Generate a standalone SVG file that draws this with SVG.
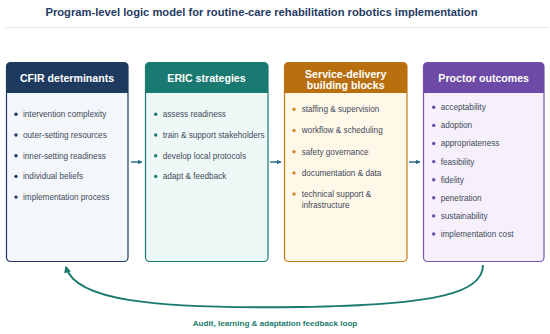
<svg xmlns="http://www.w3.org/2000/svg" width="550" height="334" viewBox="0 0 550 334">
<style>
.title{font-family:"Liberation Sans",Arial,sans-serif;font-weight:bold;font-size:11.2px;fill:#1f3a5f;text-anchor:middle}
.hd{font-family:"Liberation Sans",Arial,sans-serif;font-weight:bold;font-size:10.6px;fill:#ffffff;text-anchor:middle}
.it{font-family:"Liberation Sans",Arial,sans-serif;font-size:8.2px;fill:#424b59}
.lbl{font-family:"Liberation Sans",Arial,sans-serif;font-weight:bold;font-size:8.1px;fill:#1a7a6e;text-anchor:middle}
.con{fill:none;stroke:#2b6c8a;stroke-width:1.5}
.loop{fill:none;stroke:#1a7a6e;stroke-width:2}
</style>
<defs>
<marker id="ah" viewBox="0 0 10 10" refX="9" refY="5" markerWidth="3.2" markerHeight="3.2" orient="auto"><path d="M0,0 L10,5 L0,10 z" fill="#2b6c8a"/></marker>
<marker id="ah2" viewBox="0 0 10 10" refX="8" refY="5" markerWidth="3.5" markerHeight="3.5" orient="auto"><path d="M0,0 L10,5 L0,10 z" fill="#1a7a6e"/></marker>
</defs>
<rect width="550" height="334" fill="#ffffff"/>
<text class="title" x="261.5" y="16">Program-level logic model for routine-care rehabilitation robotics implementation</text>
<line x1="6" y1="27.5" x2="548" y2="27.5" stroke="#e3e7ec" stroke-width="1.2"/>

<g id="cfir">
<rect x="6.5" y="62.5" width="121.5" height="199" rx="4" fill="#f3f6fb" stroke="#1f3a5f" stroke-width="1.2"/>
<path d="M6.5,93 V66.5 a4,4 0 0 1 4,-4 H124 a4,4 0 0 1 4,4 V93 z" fill="#1f3a5f"/>
<text class="hd" x="67" y="81.5">CFIR determinants</text>
<g fill="#1f3a5f"><circle cx="16" cy="114.3" r="1.7"/><circle cx="16" cy="135" r="1.7"/><circle cx="16" cy="155.7" r="1.7"/><circle cx="16" cy="176.4" r="1.7"/><circle cx="16" cy="197.1" r="1.7"/></g>
<text class="it" x="23" y="117.2">intervention complexity</text>
<text class="it" x="23" y="137.9">outer-setting resources</text>
<text class="it" x="23" y="158.6">inner-setting readiness</text>
<text class="it" x="23" y="179.3">individual beliefs</text>
<text class="it" x="23" y="200">implementation process</text>
</g>

<g id="eric">
<rect x="145.5" y="62.5" width="122.5" height="199" rx="4" fill="#eef8f7" stroke="#1a7a72" stroke-width="1.2"/>
<path d="M145.5,93 V66.5 a4,4 0 0 1 4,-4 H264 a4,4 0 0 1 4,4 V93 z" fill="#1a7a72"/>
<text class="hd" x="206.5" y="81.5">ERIC strategies</text>
<g fill="#1a7a72"><circle cx="155.7" cy="114.3" r="1.7"/><circle cx="155.7" cy="135" r="1.7"/><circle cx="155.7" cy="155.7" r="1.7"/><circle cx="155.7" cy="176.4" r="1.7"/></g>
<text class="it" x="162.7" y="117.2">assess readiness</text>
<text class="it" x="162.7" y="137.9">train &amp; support stakeholders</text>
<text class="it" x="162.7" y="158.6">develop local protocols</text>
<text class="it" x="162.7" y="179.3">adapt &amp; feedback</text>
</g>

<g id="service">
<rect x="284.5" y="62.5" width="122.5" height="199" rx="4" fill="#fff7e8" stroke="#c27a1a" stroke-width="1.2"/>
<path d="M284.5,93 V66.5 a4,4 0 0 1 4,-4 H403 a4,4 0 0 1 4,4 V93 z" fill="#b8700f"/>
<text class="hd" x="345.7" y="77.5">Service-delivery</text>
<text class="hd" x="345.7" y="89">building blocks</text>
<g fill="#d08a2a"><circle cx="294" cy="109.3" r="1.7"/><circle cx="294" cy="130.5" r="1.7"/><circle cx="294" cy="151.7" r="1.7"/><circle cx="294" cy="172.9" r="1.7"/><circle cx="294" cy="194" r="1.7"/></g>
<text class="it" x="301.7" y="112.2">staffing &amp; supervision</text>
<text class="it" x="301.7" y="133.4">workflow &amp; scheduling</text>
<text class="it" x="301.7" y="154.6">safety governance</text>
<text class="it" x="301.7" y="175.8">documentation &amp; data</text>
<text class="it" x="301.7" y="196.9">technical support &amp;</text>
<text class="it" x="301.7" y="207.8">infrastructure</text>
</g>

<g id="proctor">
<rect x="423.5" y="62.5" width="120.5" height="199" rx="4" fill="#f5f0fb" stroke="#7a55b0" stroke-width="1.2"/>
<path d="M423.5,93 V66.5 a4,4 0 0 1 4,-4 H540 a4,4 0 0 1 4,4 V93 z" fill="#6c4aa5"/>
<text class="hd" x="483.7" y="81.5">Proctor outcomes</text>
<g fill="#6c4aa5"><circle cx="433.7" cy="107.3" r="1.7"/><circle cx="433.7" cy="125.4" r="1.7"/><circle cx="433.7" cy="143.5" r="1.7"/><circle cx="433.7" cy="161.6" r="1.7"/><circle cx="433.7" cy="179.7" r="1.7"/><circle cx="433.7" cy="197.8" r="1.7"/><circle cx="433.7" cy="215.9" r="1.7"/><circle cx="433.7" cy="234" r="1.7"/></g>
<text class="it" x="440.7" y="110.2">acceptability</text>
<text class="it" x="440.7" y="128.3">adoption</text>
<text class="it" x="440.7" y="146.4">appropriateness</text>
<text class="it" x="440.7" y="164.5">feasibility</text>
<text class="it" x="440.7" y="182.6">fidelity</text>
<text class="it" x="440.7" y="200.7">penetration</text>
<text class="it" x="440.7" y="218.8">sustainability</text>
<text class="it" x="440.7" y="236.9">implementation cost</text>
</g>

<g id="connectors">
<line class="con" x1="131" y1="162" x2="142" y2="162" marker-end="url(#ah)"/>
<line class="con" x1="270" y1="162" x2="281" y2="162" marker-end="url(#ah)"/>
<line class="con" x1="409" y1="162" x2="420" y2="162" marker-end="url(#ah)"/>
<path class="loop" d="M483,265 C483,292 440,305 300,307 C150,309 75,300 66,267" marker-end="url(#ah2)"/>
<text class="lbl" x="275" y="326">Audit, learning &amp; adaptation feedback loop</text>
</g>
</svg>
